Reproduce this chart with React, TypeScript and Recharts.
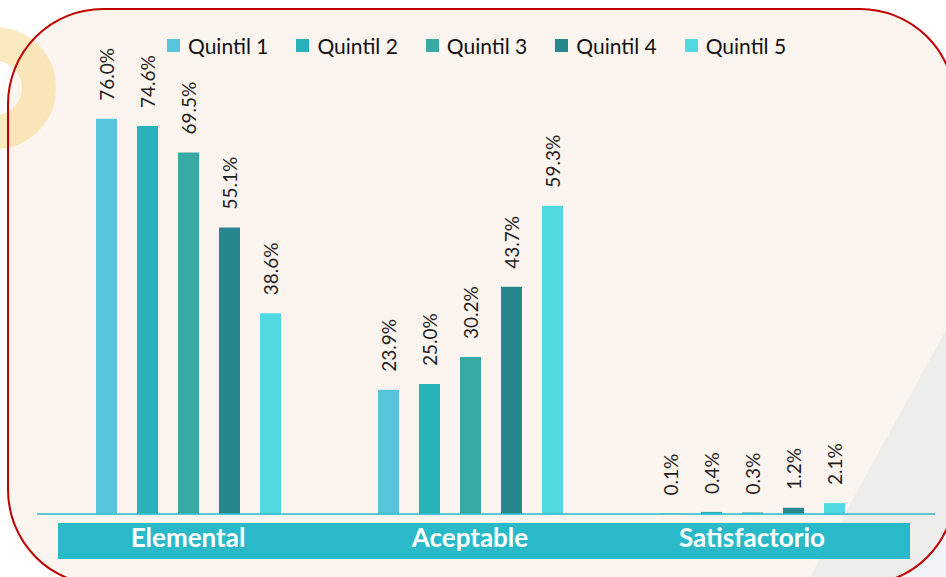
import { BarChart, Bar, XAxis, YAxis, Legend, LabelList } from "recharts";

const categories = ["Elemental", "Aceptable", "Satisfactorio"];
const seriesNames = ["Quintil 1", "Quintil 2", "Quintil 3", "Quintil 4", "Quintil 5"];
const quintil1 = [76.0, 23.9, 0.1];
const quintil2 = [74.6, 25.0, 0.4];
const quintil3 = [69.5, 30.2, 0.3];
const quintil4 = [55.1, 43.7, 1.2];
const quintil5 = [38.6, 59.3, 2.1];
const colors = ["#56C4DA", "#29B2BA", "#38AAA6", "#288890", "#51D9E0"];

const values = [quintil1, quintil2, quintil3, quintil4, quintil5];
const data = categories.map((name, i) => {
  const row: Record<string, string | number> = { name };
  seriesNames.forEach((s, j) => {
    row[s] = values[j][i];
  });
  return row;
});

const FONT = "Lato, 'Liberation Sans', sans-serif";

const RotatedLabel = (props: any) => {
  const { x, y, width, value } = props;
  const cx = x + width / 2;
  const ty = y - 18;
  return (
    <text
      x={cx}
      y={ty}
      transform={`rotate(-90 ${cx} ${ty})`}
      textAnchor="start"
      dominantBaseline="central"
      fontSize={19}
      fontFamily={FONT}
      fill="#1f1f1f"
    >
      {Number(value).toFixed(1)}%
    </text>
  );
};

const CategoryTick = (props: any) => {
  const { x, y, payload } = props;
  return (
    <text x={x} y={y + 25} textAnchor="middle" fontSize={26} fontWeight={700} fontFamily={FONT} fill="#ffffff">
      {payload.value}
    </text>
  );
};

const LegendContent = (props: any) => {
  const { payload } = props;
  return (
    <div style={{ display: "flex", gap: 28, fontFamily: FONT, fontSize: 21, color: "#111" }}>
      {(payload || []).map((p: any) => (
        <div key={p.value} style={{ display: "flex", alignItems: "center" }}>
          <span style={{ width: 13, height: 13, background: p.color, marginRight: 8, display: "inline-block" }} />
          <span>{p.value}</span>
        </div>
      ))}
    </div>
  );
};

export default function App() {
  return (
    <div style={{ position: "relative", width: 946, height: 577, overflow: "hidden", background: "#fff" }}>
      <style>{"body{margin:0}"}</style>
      <svg width={946} height={577} style={{ position: "absolute", left: 0, top: 0 }}>
        <defs>
          <clipPath id="panelClip">
            <rect x={8} y={9} width={947} height={576} rx={95} ry={95} />
          </clipPath>
        </defs>
        <polygon points="946,330 946,577 810,577" fill="#F1F5F9" />
        <rect x={8} y={9} width={947} height={576} rx={95} ry={95} fill="#FCF4EF" />
        <polygon points="946,330 946,577 810,577" fill="#EDEDEB" clipPath="url(#panelClip)" />
        <circle cx={-5} cy={88} r={44} fill="none" stroke="#F8D98A" strokeWidth={34} opacity={0.55} />
        <rect x={8} y={9} width={947} height={576} rx={95} ry={95} fill="none" stroke="#C00000" strokeWidth={2} />
      </svg>
      <div style={{ position: "absolute", left: 58, top: 523, width: 852, height: 36, background: "#29B9C9" }} />
      <div style={{ position: "absolute", left: 0, top: 0 }}>
        <BarChart
          width={946}
          height={577}
          data={data}
          margin={{ top: 98, right: 11, bottom: 23, left: 37 }}
          barCategoryGap={49}
          barGap={20}
        >
          <XAxis
            dataKey="name"
            axisLine={{ stroke: "#29B9C9", strokeWidth: 1.5 }}
            tickLine={false}
            tick={<CategoryTick />}
            height={40}
            padding={{ left: 10, right: 42 }}
            interval={0}
          />
          <YAxis hide domain={[0, 80]} />
          <Legend
            verticalAlign="middle"
            align="center"
            content={<LegendContent />}
            wrapperStyle={{ top: 33, left: 167, width: "auto" }}
          />
          {seriesNames.map((s, i) => (
            <Bar key={s} dataKey={s} fill={colors[i]} barSize={21} isAnimationActive={false}>
              <LabelList dataKey={s} content={<RotatedLabel />} />
            </Bar>
          ))}
        </BarChart>
      </div>
    </div>
  );
}
